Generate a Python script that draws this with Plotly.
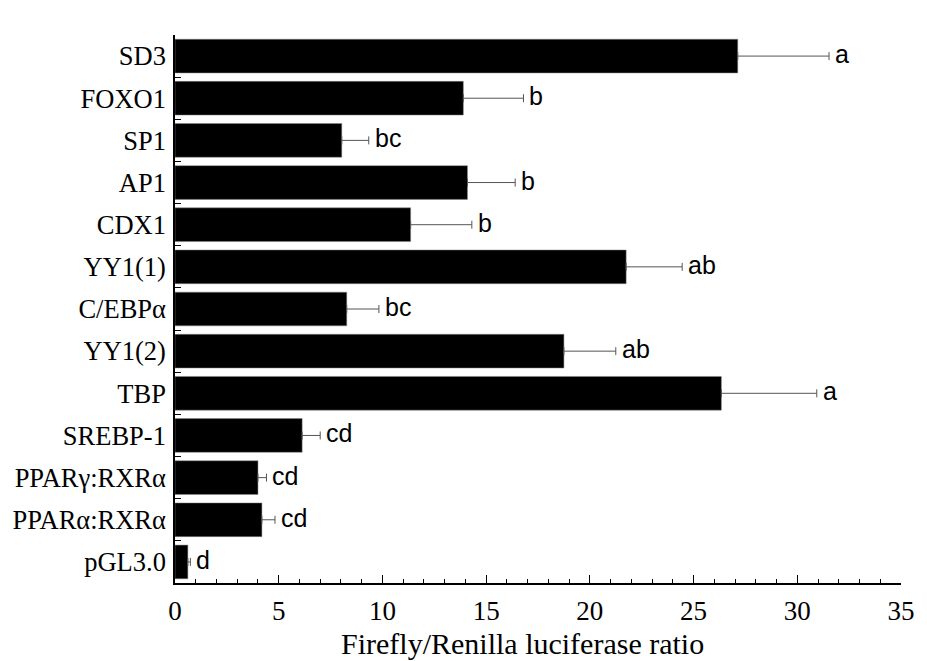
import plotly.graph_objects as go

categories = ["SD3", "FOXO1", "SP1", "AP1", "CDX1", "YY1(1)", "C/EBPα", "YY1(2)",
              "TBP", "SREBP-1", "PPARγ:RXRα", "PPARα:RXRα", "pGL3.0"]
values = [27.13, 13.9, 8.04, 14.1, 11.36, 21.75, 8.28, 18.75, 26.34, 6.13, 4.0, 4.19, 0.62]
errors = [4.4, 2.9, 1.3, 2.3, 2.95, 2.7, 1.55, 2.5, 4.6, 0.87, 0.41, 0.63, 0.12]
letters = ["a", "b", "bc", "b", "b", "ab", "bc", "ab", "a", "cd", "cd", "cd", "d"]
x_ticks = [0, 5, 10, 15, 20, 25, 30, 35]
x_title = "Firefly/Renilla luciferase ratio"

fig = go.Figure()
fig.add_trace(go.Bar(
    y=categories, x=values, orientation="h",
    marker=dict(color="black", line=dict(color="#888888", width=0.5)),
    width=0.8,
    error_x=dict(type="data", array=errors, arrayminus=[0] * len(errors), symmetric=False,
                 color="#555555", thickness=1, width=4),
    showlegend=False,
))

for cat, v, e, lab in zip(categories, values, errors, letters):
    fig.add_annotation(x=v + e, y=cat, text=lab, showarrow=False, xanchor="left",
                       xshift=4, yshift=2,
                       font=dict(family="Liberation Sans, Arial", size=25, color="black"))

fig.add_annotation(x=0.478, y=-0.11, xref="paper", yref="paper", text=x_title,
                   showarrow=False, xanchor="center", yanchor="middle",
                   font=dict(family="Liberation Serif, Times New Roman", size=30, color="black"))

fig.update_layout(
    width=927, height=661,
    margin=dict(l=174, r=14, t=35, b=78),
    paper_bgcolor="white", plot_bgcolor="white",
    bargap=0.2,
    font=dict(family="Liberation Serif, Times New Roman", color="black"),
)
fig.update_xaxes(
    range=[0, 35], tickvals=x_ticks, ticktext=[str(t) for t in x_ticks],
    showgrid=False, zeroline=False, showline=True, linecolor="black", linewidth=1.5,
    ticks="inside", ticklen=8, tickwidth=1.2, tickcolor="black",
    minor=dict(dtick=1, ticks="inside", ticklen=4, tickwidth=1, tickcolor="black", showgrid=False),
    tickfont=dict(family="Liberation Serif, Times New Roman", size=27, color="black"),
    ticklabelstandoff=3,
)
fig.update_yaxes(
    categoryorder="array", categoryarray=categories[::-1],
    range=[-0.5, 12.5],
    showgrid=False, zeroline=False, showline=True, linecolor="black", linewidth=1.5,
    ticks="inside", tickson="boundaries", ticklen=6, tickwidth=1.2, tickcolor="black",
    tickfont=dict(family="Liberation Serif, Times New Roman", size=26.5, color="black"),
    ticklabelstandoff=2,
)

fig.write_html("out.html")
